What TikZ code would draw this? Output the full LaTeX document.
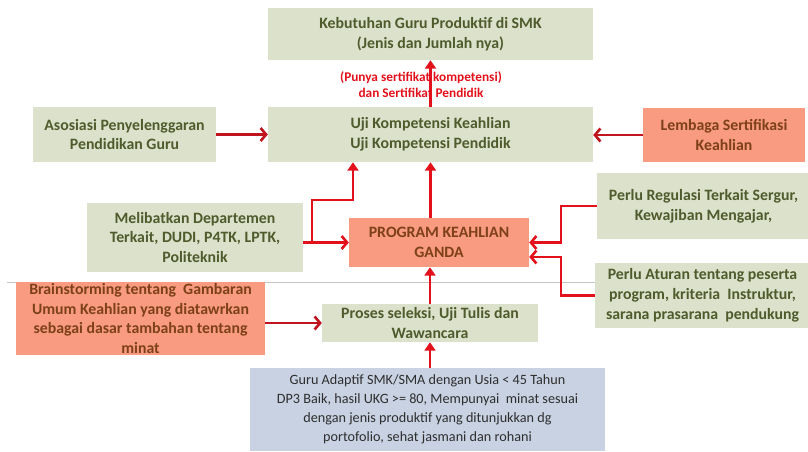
\documentclass[tikz,border=0pt]{standalone}
\usepackage{fontspec}
\setmainfont{Carlito}
\usetikzlibrary{arrows.meta}

\definecolor{olivefill}{HTML}{DBE1CB}
\definecolor{olivetext}{HTML}{4F5B2C}
\definecolor{salmonfill}{HTML}{F89B80}
\definecolor{salmontext}{HTML}{7E4019}
\definecolor{bluefill}{HTML}{C8D2E2}
\definecolor{bluetext}{HTML}{2E2E2E}
\definecolor{linkred}{HTML}{E3111B}
\definecolor{darkred}{HTML}{C0141E}
\definecolor{rulegrey}{HTML}{C4C4C4}

\tikzset{
  box/.style={draw=none, align=center, inner sep=1pt,
    font=\bfseries\fontsize{15.8}{19.8}\selectfont},
  olivebox/.style={box, fill=olivefill, text=olivetext},
  salmonbox/.style={box, fill=salmonfill, text=salmontext},
  bluebox/.style={box, fill=bluefill, text=bluetext,
    font=\fontsize{14.2}{19}\selectfont},
  certlabel/.style={align=center, inner sep=0pt, text=linkred,
    font=\bfseries\fontsize{13.3}{16}\selectfont},
  uparrow/.style={draw=linkred, line width=2.6pt,
    -{Triangle[length=8.5pt,width=11pt]}},
  siderarrow/.style={draw=linkred, line width=2.6pt,
    -{Straight Barb[length=5.5pt,width=13pt]}},
  sidearrow/.style={draw=darkred, line width=2.6pt,
    -{Straight Barb[length=5.5pt,width=13pt]}},
  divider/.style={draw=rulegrey, line width=0.8pt}
}

\begin{document}
\begin{tikzpicture}[x=1pt,y=-1pt]
\useasboundingbox (0,0) rectangle (808,451);

% thin divider behind the lower row
\coordinate (gl) at (7,282);

% boxes
\node[olivebox, minimum width=325pt, minimum height=52pt] (keb) at (430.5,34)
  {Kebutuhan Guru Produktif di SMK\\(Jenis dan Jumlah nya)};
\node[olivebox, minimum width=325pt, minimum height=55pt] (uji) at (430.5,134.5)
  {Uji Kompetensi Keahlian\\Uji Kompetensi Pendidik};
\node[olivebox, minimum width=183pt, minimum height=55pt] (aso) at (124.5,134.5)
  {Asosiasi Penyelenggaran\\Pendidikan Guru};
\node[salmonbox, minimum width=162pt, minimum height=54pt] (lem) at (724,135)
  {Lembaga Sertifikasi\\Keahlian};
\node[olivebox, minimum width=216pt, minimum height=69pt] (mel) at (195,237.5)
  {Melibatkan Departemen\\Terkait, DUDI, P4TK, LPTK,\\Politeknik};
\node[salmonbox, minimum width=180pt, minimum height=49pt] (prog) at (439,242.5)
  {PROGRAM KEAHLIAN\\GANDA};
\node[olivebox, minimum width=213pt, minimum height=66pt] (reg) at (703.5,206)
  {Perlu Regulasi Terkait Sergur,\\Kewajiban Mengajar,};
\node[olivebox, minimum width=215pt, minimum height=65pt] (atur) at (702.5,295.5)
  {Perlu Aturan tentang peserta\\program, kriteria\ \ Instruktur,\\sarana prasarana\ \ pendukung};

\draw[divider] (gl) -- (gl -| atur.west);

\node[salmonbox, minimum width=249pt, minimum height=71pt] (brain) at (140.5,318.5)
  {Brainstorming tentang\ \ Gambaran\\Umum Keahlian yang diatawrkan\\sebagai dasar tambahan tentang\\minat};
\node[olivebox, minimum width=216pt, minimum height=38pt] (pros) at (430,323)
  {Proses seleksi, Uji Tulis dan\\Wawancara};
\node[bluebox, minimum width=355pt, minimum height=83pt] (guru) at (427.5,409.5)
  {Guru Adaptif SMK/SMA dengan Usia < 45 Tahun\\DP3 Baik, hasil UKG >= 80, Mempunyai\ \ minat sesuai\\dengan jenis produktif yang ditunjukkan dg\\portofolio, sehat jasmani dan rohani};

% label on the link between the two upper boxes
\node[certlabel] (cert) at (421,85)
  {(Punya sertifikat kompetensi)\\dan Sertifikat Pendidik};

% vertical flow
\draw[uparrow] (uji.north) -- (keb.south);
\draw[uparrow] (prog.north -| uji.south) -- (uji.south);
\draw[uparrow] (pros.north) -- (pros.north |- prog.south);
\draw[uparrow] (pros.south |- guru.north) -- (pros.south);

% side inputs
\draw[sidearrow] (aso.east) -- (aso.east -| uji.west);
\draw[sidearrow] (lem.west) -- (lem.west -| uji.east);
\draw[sidearrow] (brain.east |- pros.west) -- (pros.west);
\draw[siderarrow] (mel.east |- prog.west) -- (prog.west);

% branch from the departments link up to the competency tests
\coordinate (mj) at (312,242.5);
\coordinate (mk) at (353,200);
\draw[uparrow] (mj) |- (mk) -- (mk |- uji.south);

% regulations feeding the programme
\coordinate (rv) at (561,0);
\path (prog.east) ++(0,14.5) coordinate (pin);
\draw[siderarrow] (reg.west) -- (reg.west -| rv) |- (prog.east);
\draw[siderarrow] (atur.west) -- (atur.west -| rv) |- (pin);
\end{tikzpicture}
\end{document}
